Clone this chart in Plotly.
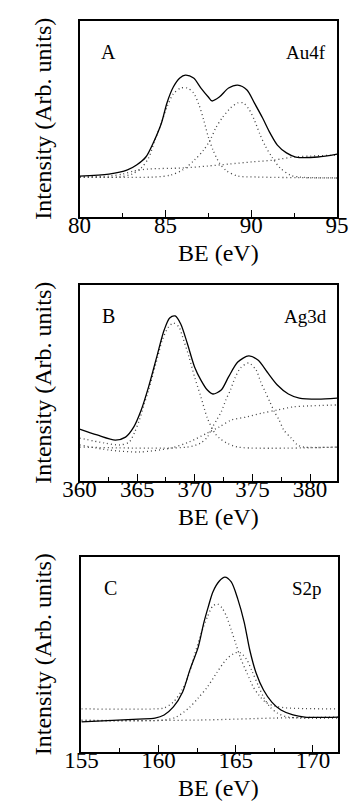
import plotly.graph_objects as go

# ---------------- Panel A: Au4f ----------------
a_sum_be = [80.00, 81.71, 82.79, 83.32, 83.86, 84.29, 84.77, 85.09, 85.46, 85.84, 86.16, 86.64, 87.07,
            87.50, 87.71, 88.14, 88.68, 89.21, 89.75, 90.18, 90.66, 91.09, 91.52, 92.05, 92.59, 93.87, 95.00]
a_sum_int = [20.9, 21.9, 24.0, 26.5, 30.6, 37.8, 48.0, 58.2, 66.3, 70.9, 72.4, 70.9, 65.8,
             61.2, 59.2, 61.2, 65.8, 67.3, 64.8, 58.2, 50.5, 42.9, 36.7, 32.7, 30.6, 30.6, 32.1]

a_p1_be = [80.00, 82.25, 83.05, 83.59, 84.02, 84.39, 84.77, 85.09, 85.46, 85.89, 86.27, 86.64, 86.96,
           87.23, 87.50, 87.77, 88.14, 88.57, 89.21, 90.29, 95.00]
a_p1_int = [20.4, 20.4, 21.9, 25.0, 30.1, 39.3, 48.0, 56.1, 62.8, 65.8, 65.8, 63.3, 57.1,
            49.5, 40.8, 34.2, 27.6, 23.5, 20.9, 20.4, 19.9]

a_p2_be = [80.00, 84.39, 85.30, 86.00, 86.70, 87.23, 87.61, 87.93, 88.30, 88.79, 89.21, 89.54, 89.86,
           90.18, 90.50, 90.82, 91.20, 91.68, 92.27, 92.80, 95.00]
a_p2_int = [20.4, 20.4, 21.4, 24.0, 29.1, 34.2, 39.3, 45.4, 50.5, 55.6, 58.2, 58.2, 55.1,
            49.5, 42.3, 36.2, 30.6, 25.0, 21.4, 20.4, 19.9]

a_bg_be = [80.00, 81.71, 82.52, 83.16, 84.02, 86.00, 87.45, 88.68, 90.02, 91.36, 92.43, 93.50, 95.00]
a_bg_int = [20.4, 20.9, 21.9, 23.5, 24.5, 25.0, 26.0, 27.0, 28.1, 29.1, 30.6, 31.1, 31.6]

# ---------------- Panel B: Ag3d ----------------
b_sum_be = [360.00, 361.52, 363.11, 363.99, 364.71, 365.35, 365.99, 366.70, 367.34, 367.82, 368.30,
            368.78, 369.34, 369.98, 370.53, 371.09, 371.57, 372.29, 372.93, 373.73, 374.68, 375.48,
            376.28, 377.16, 378.12, 379.07, 380.67, 382.35]
b_sum_int = [26.5, 23.5, 20.9, 22.4, 27.6, 36.2, 48.0, 63.3, 77.0, 83.2, 84.2,
             80.1, 70.4, 58.2, 51.5, 46.4, 44.4, 46.4, 53.1, 60.7, 63.8, 61.7,
             55.6, 49.0, 44.4, 42.3, 41.8, 42.3]

b_p1_be = [360.00, 362.15, 363.51, 364.31, 364.79, 365.19, 365.59, 365.99, 366.38, 366.78, 367.18,
           367.66, 368.14, 368.62, 368.94, 369.50, 369.98, 370.53, 371.09, 371.73, 372.13, 372.77,
           373.73, 382.35]
b_p1_int = [21.9, 19.4, 18.4, 19.9, 25.0, 31.1, 38.8, 46.4, 54.6, 63.3, 71.9,
            78.1, 80.6, 78.6, 73.5, 63.3, 53.1, 42.9, 32.1, 24.5, 21.9, 19.4,
            17.3, 17.3]

b_p2_be = [360.00, 369.34, 370.53, 371.09, 371.49, 371.89, 372.29, 372.69, 373.09, 373.49, 373.97,
           374.68, 375.32, 375.72, 376.12, 376.52, 376.92, 377.32, 377.72, 378.36, 378.91, 379.47,
           382.35]
b_p2_int = [17.3, 17.3, 19.4, 22.4, 27.0, 31.1, 35.2, 41.3, 46.4, 52.6, 57.7,
            60.2, 56.6, 50.5, 45.4, 40.3, 35.2, 31.1, 26.0, 21.9, 18.4, 17.3,
            17.3]

b_bg_be = [360.00, 362.55, 365.19, 367.90, 369.50, 371.09, 372.13, 373.17, 374.53, 375.88, 377.16,
           378.52, 379.87, 382.35]
b_bg_int = [18.4, 15.8, 14.8, 16.8, 19.9, 24.5, 27.6, 31.1, 32.7, 34.7, 36.2,
            37.8, 38.3, 38.8]

# ---------------- Panel C: S2p ----------------
c_sum_be = [155.00, 158.69, 159.77, 160.36, 160.96, 161.56, 162.03, 162.57, 162.93, 163.22, 163.52,
            163.94, 164.30, 164.71, 165.13, 165.55, 165.91, 166.32, 166.80, 167.34, 167.93, 168.71,
            169.48, 171.63]
c_sum_int = [15.4, 16.9, 17.4, 19.0, 23.1, 30.8, 42.1, 53.8, 66.2, 74.4, 82.1,
             87.7, 89.7, 87.2, 78.5, 66.5, 52.3, 40.5, 31.8, 25.6, 21.5, 19.0,
             17.9, 17.9]

c_p1_be = [155.00, 159.77, 160.36, 160.96, 161.56, 161.97, 162.33, 162.75, 163.16, 163.52, 163.82,
           164.12, 164.42, 164.71, 165.01, 165.31, 165.73, 166.14, 166.50, 166.92, 167.51, 168.29,
           171.63]
c_p1_int = [22.1, 22.1, 22.6, 25.6, 32.3, 40.0, 49.7, 60.5, 69.2, 74.9, 75.9,
            73.8, 69.2, 62.6, 55.4, 48.2, 40.5, 33.3, 29.2, 25.6, 23.6, 22.6,
            22.1]

c_p2_be = [155.00, 160.36, 161.14, 161.97, 162.57, 163.16, 163.76, 164.36, 164.95, 165.31, 165.73,
           166.08, 166.44, 166.80, 167.22, 167.69, 168.41, 171.63]
c_p2_int = [16.4, 16.4, 17.9, 22.6, 27.7, 33.3, 40.5, 47.2, 50.8, 50.8, 47.2,
            41.0, 34.4, 28.2, 23.1, 20.0, 17.9, 17.4]

c_bg_be = [155.00, 162.75, 167.51, 171.63]
c_bg_int = [15.9, 16.4, 17.4, 17.9]

panel_ranges = [[80, 95], [360, 382.35], [155, 171.63]]
panel_ticks = [[80, 85, 90, 95], [360, 365, 370, 375, 380], [155, 160, 165, 170]]
panel_letters = ["A", "B", "C"]
panel_levels = ["Au4f", "Ag3d", "S2p"]

W, H = 362, 810
FONT = "Liberation Serif, Times New Roman, serif"

# plot-area boxes in pixels: (left, right, top, bottom)
boxes = [(68, 348, 21, 217), (68, 348, 285, 481), (70, 349, 557, 752)]

panels = [
    (a_sum_be, a_sum_int, [(a_p1_be, a_p1_int), (a_p2_be, a_p2_int), (a_bg_be, a_bg_int)]),
    (b_sum_be, b_sum_int, [(b_p1_be, b_p1_int), (b_p2_be, b_p2_int), (b_bg_be, b_bg_int)]),
    (c_sum_be, c_sum_int, [(c_p1_be, c_p1_int), (c_p2_be, c_p2_int), (c_bg_be, c_bg_int)]),
]

fig = go.Figure()
layout = dict(width=W, height=H, margin=dict(l=0, r=0, t=0, b=0),
              paper_bgcolor="white", plot_bgcolor="white", showlegend=False,
              font=dict(family=FONT, color="black"))
annotations = []

for i, (sum_be, sum_int, comps) in enumerate(panels):
    xa = "x" if i == 0 else f"x{i+1}"
    ya = "y" if i == 0 else f"y{i+1}"
    for be, inten in comps:
        fig.add_trace(go.Scatter(x=be, y=inten, mode="lines", xaxis=xa, yaxis=ya,
                                 line=dict(color="#444444", width=1.3, dash="1px,3px",
                                           shape="spline", smoothing=0.8),
                                 hoverinfo="skip"))
    fig.add_trace(go.Scatter(x=sum_be, y=sum_int, mode="lines", xaxis=xa, yaxis=ya,
                             line=dict(color="black", width=1.3, shape="spline", smoothing=0.8),
                             hoverinfo="skip"))

    l, r, t, b = boxes[i]
    xdom = [l / W, r / W]
    ydom = [1 - b / H, 1 - t / H]
    xkey = "xaxis" if i == 0 else f"xaxis{i+1}"
    ykey = "yaxis" if i == 0 else f"yaxis{i+1}"
    layout[xkey] = dict(domain=xdom, anchor=ya, range=panel_ranges[i],
                        tickvals=panel_ticks[i], ticks="inside", ticklen=7, tickwidth=1,
                        tickcolor="black", showline=True, linecolor="black", linewidth=1.5,
                        mirror=True, showgrid=False, zeroline=False, ticklabelstandoff=-13,
                        tickfont=dict(family=FONT, size=23, color="black"),
                        minor=dict(dtick=2.5, tick0=panel_ranges[i][0], ticks="inside",
                                   ticklen=4, tickcolor="black", showgrid=False))
    layout[ykey] = dict(domain=ydom, anchor=xa, range=[0, 100], showticklabels=False,
                        ticks="", showline=True, linecolor="black", linewidth=1.5,
                        mirror=True, showgrid=False, zeroline=False)

    # panel letter and core level label
    annotations.append(dict(text=panel_letters[i], xref="paper", yref="paper",
                            x=(l + 32) / W, y=1 - (t + 31) / H, xanchor="center", yanchor="middle",
                            showarrow=False, font=dict(family=FONT, size=20, color="black")))
    annotations.append(dict(text=panel_levels[i], xref="paper", yref="paper",
                            x=(r - 34) / W, y=1 - (t + 31) / H, xanchor="center", yanchor="middle",
                            showarrow=False, font=dict(family=FONT, size=19, color="black")))
    # axis titles
    annotations.append(dict(text="BE (eV)", xref="paper", yref="paper",
                            x=219 / W, y=1 - (b + 36) / H, xanchor="center", yanchor="middle",
                            showarrow=False, font=dict(family=FONT, size=24, color="black")))
    annotations.append(dict(text="Intensity (Arb. units)", xref="paper", yref="paper",
                            x=28 / W, y=1 - ((t + b) / 2) / H, xanchor="center", yanchor="middle",
                            textangle=-90, showarrow=False,
                            font=dict(family=FONT, size=24, color="black")))

layout["annotations"] = annotations
fig.update_layout(**layout)
fig.write_html("out.html")
